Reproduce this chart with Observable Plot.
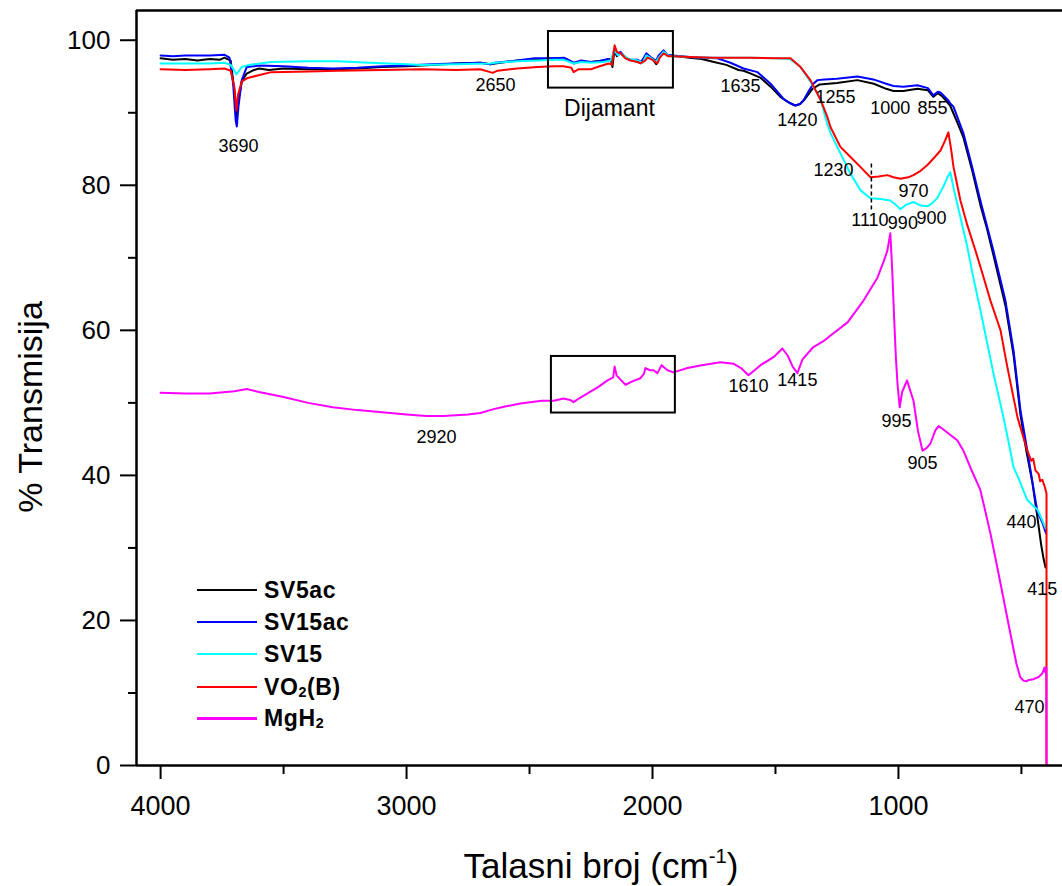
<!DOCTYPE html>
<html><head><meta charset="utf-8">
<script src="https://cdn.jsdelivr.net/npm/d3@7"></script>
<script src="https://cdn.jsdelivr.net/npm/@observablehq/plot@0.6"></script>
<style>
body{margin:0;background:#fff;}
#wrap{position:relative;width:1062px;height:886px;font-family:"Liberation Sans",Arial,sans-serif;color:#000;}
#chart{position:absolute;left:0;top:0;}
.ytitle{position:absolute;left:30px;top:407px;transform:translate(-50%,-50%) rotate(-90deg);font-size:34px;white-space:nowrap;line-height:1;}
.xtitle{position:absolute;left:601px;top:848px;transform:translateX(-50%);font-size:35px;line-height:35px;white-space:nowrap;}
.xtitle sup{font-size:0.58em;line-height:0;vertical-align:0.75em;}
.leg{position:absolute;height:32px;display:flex;align-items:center;font-weight:bold;font-size:23px;letter-spacing:0.6px;white-space:nowrap;}
.leg .sw{display:inline-block;width:60px;margin-right:7px;}
.leg sub{font-size:0.62em;vertical-align:-0.12em;line-height:0;}
</style></head>
<body>
<div id="wrap">
  <div id="chart"></div>
  <div class="ytitle">% Transmisija</div>
  <div class="xtitle">Talasni broj (cm<sup>-1</sup>)</div>
  <div id="legend"></div>
</div>
<script>
// ---------------- data (wavenumber cm-1, % transmission) ----------------
const SV5ac = [[4000,97.5],[3950,97.3],[3900,97.4],[3850,97.2],[3800,97.4],[3760,97.3],[3740,97.6],[3715,97.2],[3700,93],[3692,89.5],[3685,91.5],[3670,94.3],[3650,95.4],[3620,95.9],[3600,96.1],[3560,95.9],[3500,96.1],[3400,96.0],[3300,96.0],[3200,96.1],[3100,96.3],[3000,96.4],[2900,96.6],[2800,96.8],[2700,96.9],[2660,96.7],[2640,96.8],[2550,97.2],[2450,97.4],[2400,97.5],[2350,97.4],[2320,96.8],[2300,97.0],[2250,97.0],[2200,97.2],[2170,97.4],[2163,96.3],[2155,98.6],[2145,97.8],[2130,98.2],[2100,97.4],[2080,97.2],[2050,96.9],[2040,97.3],[2020,98.0],[2000,97.4],[1985,96.7],[1975,97.6],[1955,98.4],[1940,97.9],[1900,97.8],[1850,97.6],[1800,97.4],[1750,97.0],[1700,96.6],[1650,95.9],[1630,95.8],[1600,95.4],[1560,94.8],[1520,93.6],[1480,92.2],[1450,91.5],[1420,91.0],[1400,91.2],[1380,91.9],[1350,93.3],[1320,93.9],[1250,94.1],[1167,94.5],[1100,94.0],[1050,93.3],[1020,93.0],[980,93.0],[923,93.3],[880,93.1],[858,92.2],[840,92.7],[820,92.2],[790,91.0],[760,88.6],[736,86.6],[700,82.0],[667,77.3],[640,74.0],[614,70.4],[565,63.4],[532,56.6],[504,48.4],[480,43.4],[455,38.9],[435,34.2],[420,30.5],[411,28.7],[402,27.3]];
const SV15ac = [[4000,97.9],[3950,97.8],[3900,97.9],[3800,97.9],[3740,98.0],[3720,97.6],[3705,94],[3695,89],[3690,88.1],[3683,91],[3670,94.5],[3650,96.3],[3600,96.5],[3500,96.4],[3400,96.2],[3300,96.1],[3200,96.2],[3100,96.4],[3000,96.5],[2900,96.7],[2800,96.8],[2700,96.9],[2660,96.7],[2640,96.9],[2550,97.2],[2480,97.5],[2400,97.5],[2360,97.6],[2320,96.9],[2290,97.2],[2250,97.0],[2220,97.1],[2180,97.4],[2165,97.2],[2155,98.8],[2145,98.0],[2130,98.4],[2110,97.6],[2090,97.3],[2060,97.3],[2045,97.0],[2025,98.2],[2005,97.6],[1985,97.2],[1975,97.9],[1955,98.6],[1940,98.0],[1915,97.9],[1850,97.7],[1800,97.6],[1736,97.5],[1683,96.9],[1630,96.1],[1573,95.6],[1520,94.0],[1467,91.9],[1440,91.3],[1419,91.0],[1400,91.2],[1386,91.7],[1365,93.0],[1346,94.0],[1329,94.5],[1300,94.6],[1250,94.7],[1167,95.0],[1102,94.6],[1050,94.0],[1020,93.7],[980,93.6],[923,93.8],[880,93.4],[858,92.4],[840,92.9],[829,92.8],[800,91.8],[789,91.3],[776,90.8],[736,87.2],[700,82.5],[667,77.9],[614,71.0],[565,64.1],[532,57.2],[504,49.0],[476,43.4],[451,38.2],[435,35.0],[415,33.5],[400,32.0]];
const SV15 = [[4000,96.8],[3900,96.8],[3800,96.8],[3740,96.9],[3715,96.6],[3700,95.8],[3692,95.3],[3685,95.6],[3670,96.3],[3640,96.6],[3550,97.0],[3400,97.1],[3280,97.1],[3150,96.9],[3000,96.7],[2940,96.6],[2800,96.7],[2660,96.8],[2640,96.9],[2550,97.1],[2467,97.2],[2400,97.3],[2360,97.3],[2320,96.8],[2290,97.0],[2250,96.9],[2200,97.0],[2170,97.2],[2155,98.6],[2140,97.9],[2130,98.2],[2100,97.4],[2060,97.2],[2040,96.9],[2025,97.9],[2000,97.4],[1985,97.0],[1975,97.6],[1955,98.4],[1935,97.9],[1915,97.8],[1850,97.7],[1750,97.6],[1600,97.6],[1500,97.5],[1440,97.4],[1398,96.3],[1358,94.3],[1317,91.9],[1290,88.5],[1276,87.2],[1236,84.4],[1195,81.6],[1154,79.3],[1114,78.2],[1073,78.1],[1033,77.9],[1010,77.3],[992,76.7],[970,77.3],[939,77.7],[910,77.2],[882,77.1],[860,77.6],[841,78.3],[815,80.0],[801,81.1],[789,81.8],[775,79.5],[748,75.6],[720,71.5],[700,68.0],[667,62.8],[614,54.1],[573,48.0],[545,43.4],[532,41.1],[510,39.5],[492,37.9],[476,36.6],[455,35.9],[435,35.3],[415,33.8],[402,32.7]];
const VO2B = [[4000,96.0],[3900,95.9],[3800,96.0],[3740,96.1],[3715,95.8],[3700,93.5],[3692,90.3],[3685,92.5],[3670,94.3],[3646,94.8],[3550,95.6],[3400,95.7],[3280,95.8],[3100,95.9],[2940,96.0],[2800,95.9],[2700,96.0],[2660,95.6],[2650,95.5],[2630,95.8],[2550,96.1],[2467,96.3],[2400,96.4],[2362,96.4],[2330,96.2],[2321,95.6],[2300,96.0],[2250,96.0],[2224,96.3],[2179,96.8],[2165,96.6],[2154,99.3],[2145,98.4],[2130,98.2],[2110,97.5],[2089,97.2],[2060,97.0],[2049,96.8],[2030,97.2],[2020,97.6],[2000,97.3],[1980,96.8],[1970,97.6],[1955,98.2],[1935,97.8],[1915,97.8],[1850,97.7],[1750,97.6],[1600,97.6],[1500,97.5],[1439,97.5],[1398,96.3],[1358,94.5],[1317,91.8],[1290,89.5],[1276,88.0],[1236,85.3],[1195,83.9],[1154,82.5],[1114,81.1],[1080,81.2],[1045,81.4],[1020,81.1],[992,80.9],[960,81.1],[939,81.4],[910,82.0],[882,82.8],[855,83.8],[829,84.8],[810,86.2],[797,87.3],[786,85.0],[776,82.5],[748,77.9],[720,74.5],[687,71.0],[660,68.0],[626,64.1],[600,61.5],[585,60.0],[557,54.9],[516,48.0],[476,43.4],[460,42.0],[452,42.3],[443,40.7],[430,40.2],[424,39.2],[415,39.4],[405,38.4],[398,37.5],[398,0]];
const MgH2 = [[4000,51.4],[3900,51.3],[3800,51.3],[3700,51.6],[3650,51.9],[3600,51.5],[3500,50.8],[3400,50.0],[3300,49.4],[3200,49.0],[3100,48.7],[3000,48.4],[2920,48.2],[2850,48.2],[2750,48.4],[2700,48.6],[2650,49.1],[2600,49.5],[2537,49.9],[2450,50.3],[2402,50.3],[2362,50.6],[2335,50.4],[2321,50.1],[2300,50.6],[2264,51.3],[2220,52.2],[2183,53.1],[2160,53.5],[2154,55.0],[2146,53.8],[2130,53.2],[2110,52.5],[2080,53.0],[2049,53.4],[2035,54.0],[2029,54.8],[2010,54.5],[1996,54.5],[1980,54.1],[1963,55.2],[1950,54.8],[1939,54.5],[1915,54.2],[1858,54.8],[1800,55.2],[1724,55.6],[1671,55.4],[1640,54.8],[1610,53.8],[1585,54.5],[1561,55.2],[1508,56.3],[1472,57.5],[1450,56.5],[1430,55.0],[1411,54.1],[1390,56.0],[1346,57.7],[1305,58.5],[1276,59.3],[1207,61.1],[1142,64.1],[1085,67.3],[1060,69.5],[1045,71.0],[1033,73.4],[1025,68],[1018,62],[1010,56],[1004,52.7],[995,49.4],[985,51.5],[965,53.1],[955,52],[939,50.3],[920,46],[902,43.4],[885,43.8],[870,44.4],[850,46.2],[837,46.8],[820,46.4],[790,45.6],[760,44.8],[736,43.4],[700,40.5],[667,38.0],[626,32.0],[585,25.1],[545,18.2],[520,14.0],[505,12.2],[492,11.7],[480,11.6],[470,11.8],[451,11.9],[430,12.2],[415,12.7],[406,13.5],[402,12.8],[399,13.5],[398,0]];

const seriesNames = ["SV5ac","SV15ac","SV15","VO2(B)","MgH2"];
const seriesColors = ["#000000","#0000ff","#00ffff","#ff0000","#ff00ff"];
const seriesData = [SV5ac, SV15ac, SV15, VO2B, MgH2];
const legendHtml = ["SV5ac","SV15ac","SV15","VO<sub>2</sub>(B)","MgH<sub>2</sub>"];

// peak annotations
const annoLabels = ["3690","2650","1635","1420","1255","1000","855","1230","970","1110","990","900","1610","1415","2920","995","905","440","415","470"];
const annoWn     = [3683,2638,1642,1411,1256,1033,862,1264,939,1116,982,866,1610,1411,2878,1008,902,500,415,467];
const annoT      = [85.4,93.8,93.7,89.0,92.1,90.6,90.6,82.1,79.2,75.2,74.8,75.4,52.3,53.1,45.2,47.5,41.7,33.5,24.3,8.1];

// "Dijamant" boxes
const boxWn1 = [2423, 2411];
const boxWn2 = [1915, 1907];
const boxT1  = [93.4, 48.6];
const boxT2  = [101.2, 56.4];

// axis ticks
const xMajor = [4000,3000,2000,1000];
const xMinor = [3500,2500,1500,500];
const yMajor = [0,20,40,60,80,100];
const yMinor = [10,30,50,70,90];
const xDomain = [4098, 333];
const yDomain = [0, 104.1];

// ---------------- chart ----------------
const chart = Plot.plot({
  width: 1062, height: 886,
  marginLeft: 136, marginRight: 0, marginTop: 10, marginBottom: 121,
  x: {domain: xDomain, axis: null},
  y: {domain: yDomain, axis: null},
  style: {fontFamily: '"Liberation Sans", Arial, sans-serif', color: "#000", background: "transparent"},
  marks: [
    ...seriesData.map((d, i) => Plot.line(d, {x: p => p[0], y: p => p[1], stroke: seriesColors[i], strokeWidth: 2})),
    Plot.rect(boxWn1, {x1: boxWn1, x2: boxWn2, y1: boxT1, y2: boxT2, fill: "none", stroke: "#000", strokeWidth: 2}),
    Plot.ruleX([1110], {y1: 76.6, y2: 83.2, stroke: "#000", strokeWidth: 1.5, strokeDasharray: "4,3"}),
    Plot.text(annoLabels, {x: annoWn, y: annoT, text: d => d, fontSize: 18, fill: "#000"}),
    Plot.text(["Dijamant"], {x: [2175], y: [90.6], text: d => d, fontSize: 23, fill: "#000"}),
    Plot.ruleY([yDomain[0]], {stroke: "#000", strokeWidth: 2.5}),
    Plot.ruleY([yDomain[1]], {stroke: "#000", strokeWidth: 2.5}),
    Plot.ruleX([xDomain[0]], {stroke: "#000", strokeWidth: 2.5}),
    Plot.axisX(xMajor, {tickSize: 14, tickPadding: 16, fontSize: 27, strokeWidth: 2, label: null, tickFormat: d => String(d)}),
    Plot.axisX(xMinor, {tickSize: 9, tickFormat: () => "", strokeWidth: 2, label: null}),
    Plot.axisY(yMajor, {tickSize: 16, tickPadding: 10, fontSize: 26, strokeWidth: 2, label: null, tickFormat: d => String(d)}),
    Plot.axisY(yMinor, {tickSize: 8, tickFormat: () => "", strokeWidth: 2, label: null})
  ]
});
document.getElementById("chart").appendChild(chart);

// ---------------- legend ----------------
const legendRowsY = [590, 622, 654, 687, 718];
const leg = document.getElementById("legend");
seriesNames.forEach((n, i) => {
  const row = document.createElement("div");
  row.className = "leg";
  row.style.left = "197px";
  row.style.top = (legendRowsY[i] - 16) + "px";
  row.innerHTML = `<span class="sw" style="border-top:${i === 4 ? 3 : 2}px solid ${seriesColors[i]}"></span><span>${legendHtml[i]}</span>`;
  leg.appendChild(row);
});
</script>
</body></html>
